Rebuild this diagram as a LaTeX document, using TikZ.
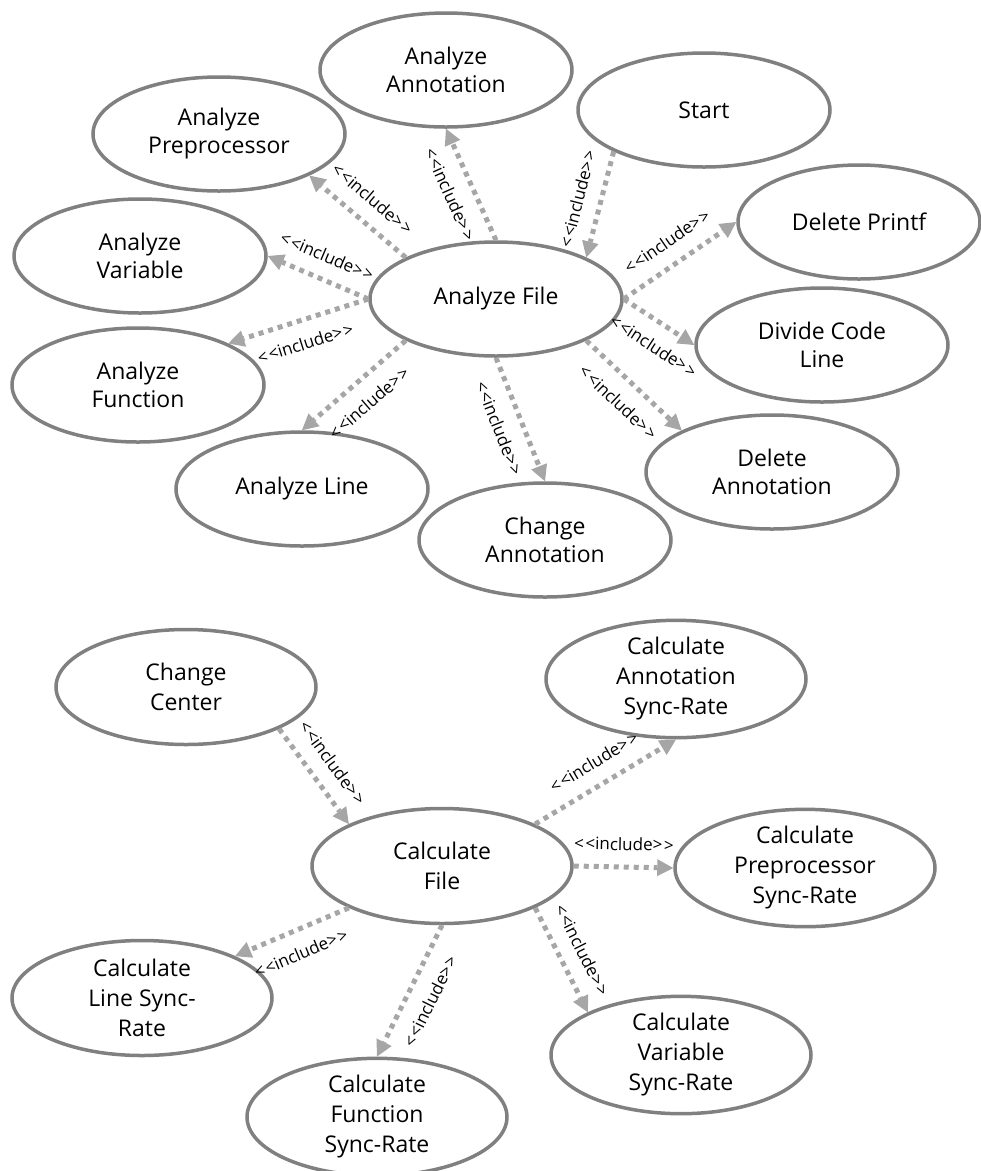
\documentclass[tikz,border=0pt]{standalone}
\usepackage{fontspec}
\setmainfont{Open Sans}
\usetikzlibrary{arrows.meta,shapes.geometric}
\definecolor{edgegray}{HTML}{808080}
\definecolor{arrgray}{HTML}{A6A6A6}
\newcommand{\inctext}{<\kern1.5pt<include>\kern1.5pt>}
\begin{document}
\begin{tikzpicture}[x=1pt,y=-1pt,
  uc/.style={ellipse, draw=edgegray, line width=3.5pt, fill=white,
    minimum width=252pt, minimum height=114pt, inner sep=0pt, align=center,
    font=\fontsize{23}{28}\selectfont},
  ucb/.style={uc, minimum width=260pt, minimum height=115pt,
    font=\fontsize{23}{30}\selectfont},
  inc/.style={draw=arrgray, line width=5pt, dash pattern=on 5pt off 5pt,
    -{Triangle[length=16pt,width=17pt,line width=0pt]}},
  lab/.style={sloped, font=\fontsize{17}{20}\selectfont, text=black, inner sep=1pt}
]
\useasboundingbox (0,0) rectangle (981,1171);

% ---------- upper diagram ----------
\node[uc] (aa)  at (446,70)  {Analyze\\Annotation};
\node[uc] (st)  at (704,110) {Start};
\node[uc] (ap)  at (219,134) {Analyze\\Preprocessor};
\node[uc] (av)  at (140,256) {Analyze\\Variable};
\node[uc] (af)  at (496,299) {Analyze File};
\node[uc, minimum width=242pt] (dp) at (859,222) {Delete Printf};
\node[uc] (dc)  at (822,345) {Divide Code\\Line};
\node[uc] (afn) at (138,385) {Analyze\\Function};
\node[uc] (al)  at (302,489) {Analyze Line};
\node[uc] (da)  at (772,472) {Delete\\Annotation};
\node[uc] (ca)  at (545,540) {Change\\Annotation};

\draw[inc] (af.north) -- node[lab,below=13pt] {\inctext} (aa.south);
\draw[inc] (af.north west) -- node[lab,above=13pt] {\inctext} (ap.south east);
\draw[inc] (af.west) -- node[lab,above=13pt] {\inctext} (av.east);
\draw[inc] (af.west) -- node[lab,below=13pt] {\inctext} (afn.north east);
\draw[inc] (af.south west) -- node[lab,below=13pt] {\inctext} (al.north);
\draw[inc] (af.south) -- node[lab,below=13pt] {\inctext} (ca.north);
\draw[inc] (af.south east) -- node[lab,below=13pt] {\inctext} (da.north west);
\draw[inc] (af.east) -- node[lab,below=13pt,pos=0.6] {\inctext} (dc.west);
\draw[inc] (af.east) -- node[lab,above=13pt] {\inctext} (dp.west);
\draw[inc] (st.south west) -- node[lab,above=13pt] {\inctext} (af.north east);

% ---------- lower diagram ----------
\node[ucb] (cc)  at (186,687)  {Change\\Center};
\node[ucb] (cf)  at (442,866)  {Calculate\\File};
\node[ucb] (csa) at (676,679)  {Calculate\\Annotation\\Sync-Rate};
\node[ucb] (csp) at (805,868)  {Calculate\\Preprocessor\\Sync-Rate};
\node[ucb] (csl) at (142,998)  {Calculate\\Line Sync-\\Rate};
\node[ucb] (csv) at (681,1055) {Calculate\\Variable\\Sync-Rate};
\node[ucb] (csf) at (377,1117) {Calculate\\Function\\Sync-Rate};

\draw[inc] (cc.south east) -- node[lab,above=13pt] {\inctext} (cf.north west);
\draw[inc] (cf.north east) -- node[lab,above=13pt] {\inctext} (csa.south);
\draw[inc] (cf.east) -- node[lab,above=13pt] {\inctext} (csp.west);
\draw[inc] (cf.south east) -- node[lab,above=13pt] {\inctext} (csv.north west);
\draw[inc] (cf.south) -- node[lab,below=13pt] {\inctext} (csf.north);
\draw[inc] (cf.south west) -- node[lab,below=13pt] {\inctext} (csl.north east);
\end{tikzpicture}
\end{document}
